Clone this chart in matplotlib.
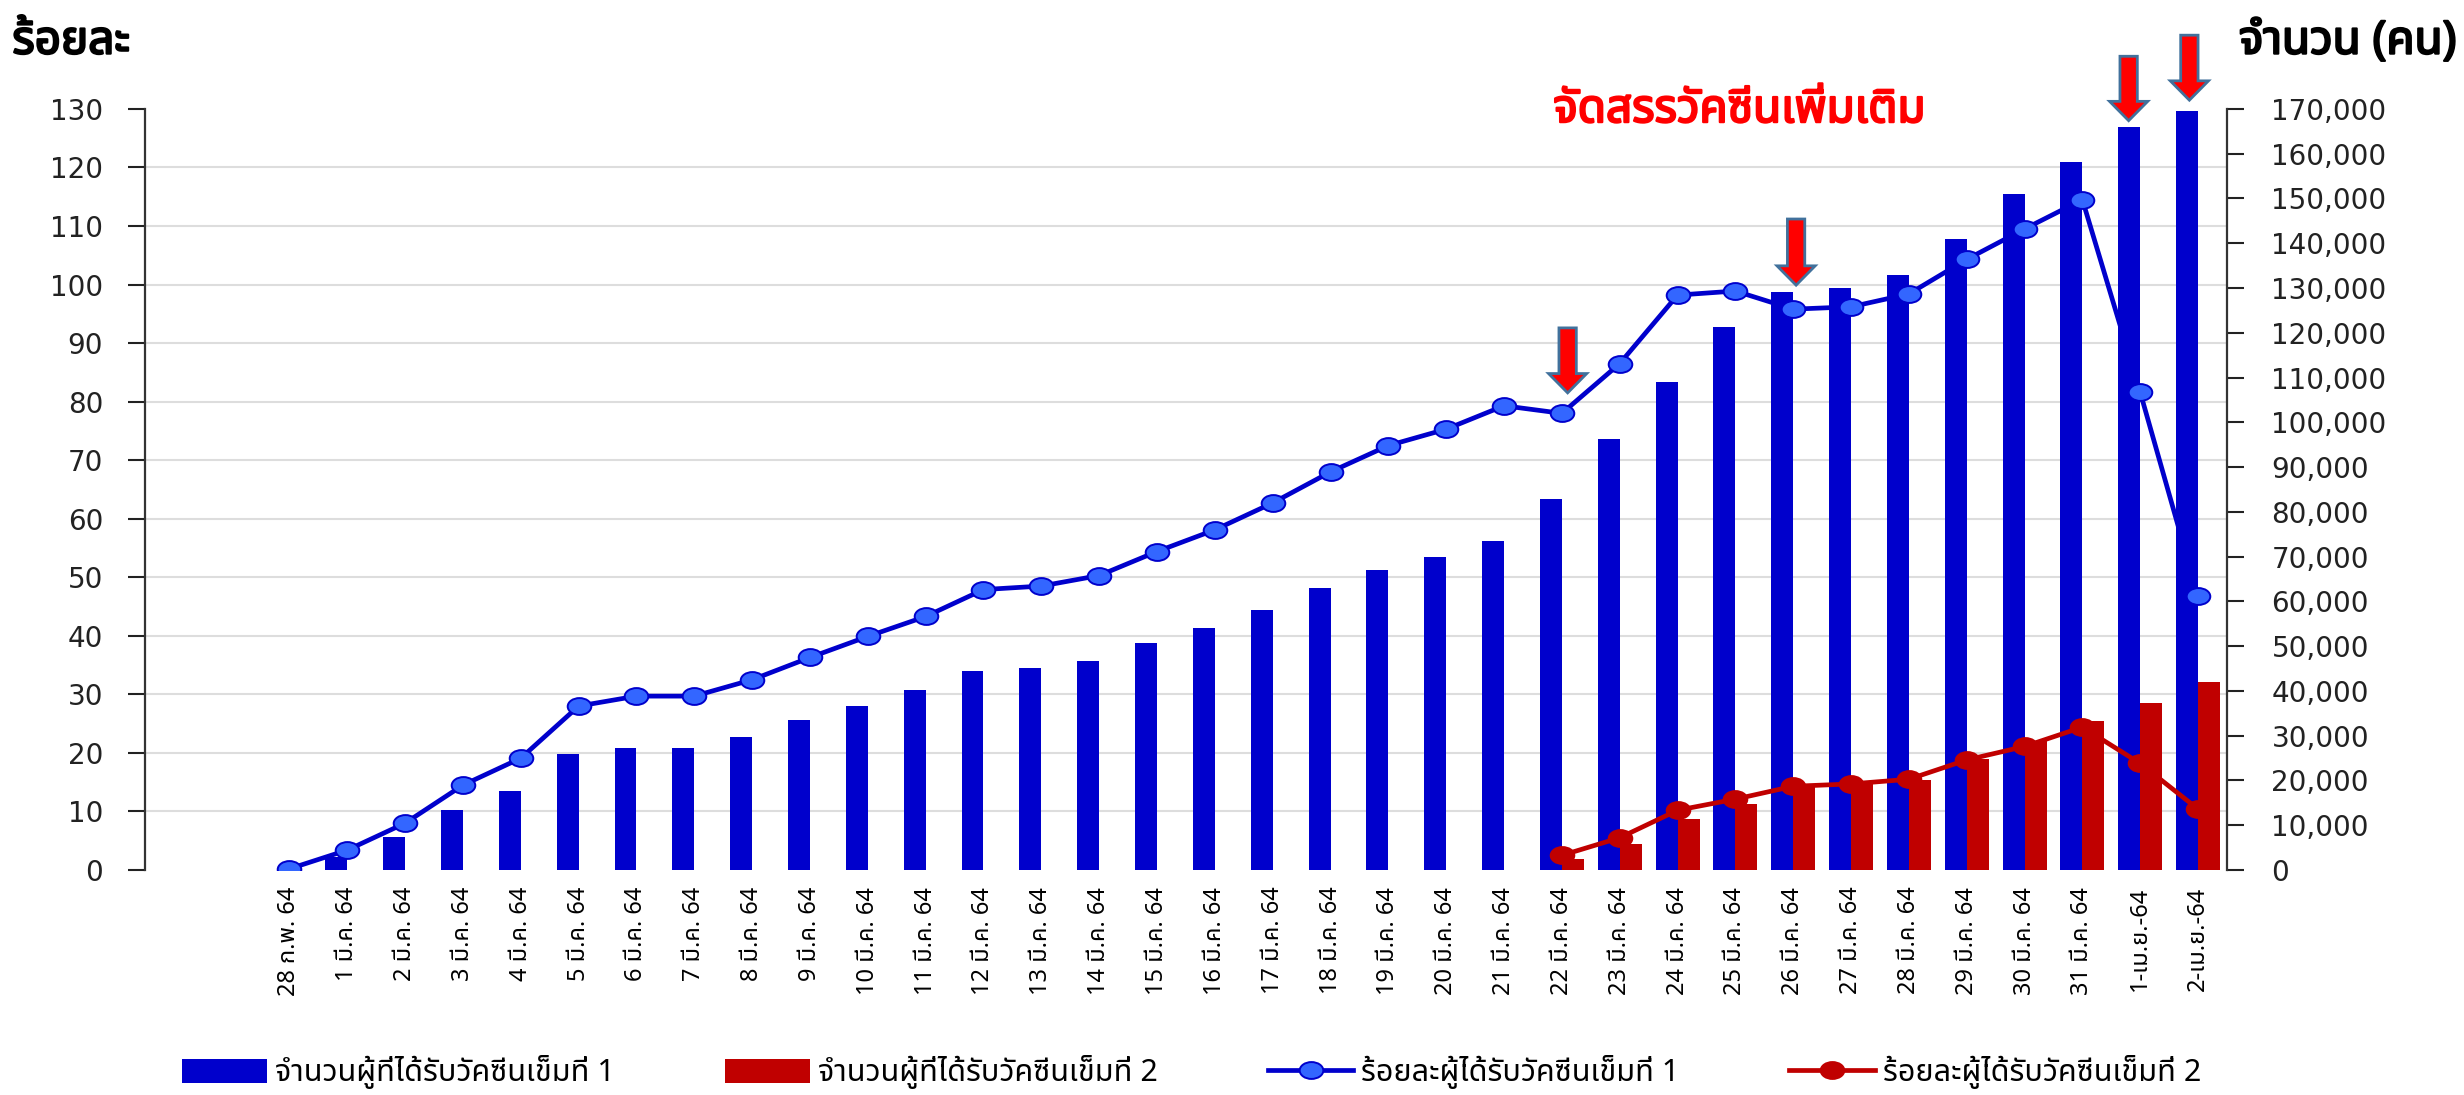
import matplotlib
matplotlib.use('Agg')
import matplotlib.pyplot as plt
import matplotlib.patheffects as pe
from matplotlib import font_manager
from matplotlib.ft2font import FT2Font
from matplotlib.patches import FancyArrow
from matplotlib.path import Path
from matplotlib.transforms import Affine2D
from matplotlib.ticker import FuncFormatter
import numpy as np

# categories (x axis)
dates = ['28 ก.พ. 64',
         '1 มี.ค. 64', '2 มี.ค. 64', '3 มี.ค. 64', '4 มี.ค. 64', '5 มี.ค. 64',
         '6 มี.ค. 64', '7 มี.ค. 64', '8 มี.ค. 64', '9 มี.ค. 64', '10 มี.ค. 64',
         '11 มี.ค. 64', '12 มี.ค. 64', '13 มี.ค. 64', '14 มี.ค. 64', '15 มี.ค. 64',
         '16 มี.ค. 64', '17 มี.ค. 64', '18 มี.ค. 64', '19 มี.ค. 64', '20 มี.ค. 64',
         '21 มี.ค. 64', '22 มี.ค. 64', '23 มี.ค. 64', '24 มี.ค. 64', '25 มี.ค. 64',
         '26 มี.ค. 64', '27 มี.ค. 64', '28 มี.ค. 64', '29 มี.ค. 64', '30 มี.ค. 64',
         '31 มี.ค. 64', '1-เม.ย.-64', '2-เม.ย.-64']

# number of people vaccinated (right axis)
dose1_count = [0, 3000, 7300, 13400, 17700, 25900, 27300, 27300, 29800, 33600,
               36700, 40100, 44400, 45100, 46600, 50600, 54000, 58100, 62900, 67100,
               70000, 73400, 82800, 96200, 109000, 121200, 129200, 130100, 132900, 140900,
               151100, 158100, 165900, 169600]
dose2_count = [None] * 22 + [2500, 5900, 11400, 14800, 18900, 19300, 20000, 24900,
                             28800, 33300, 37300, 42100]

# percentage (left axis)
dose1_pct = [0.2, 3.4, 8.0, 14.5, 19.1, 28.0, 29.7, 29.7, 32.5, 36.3,
             39.9, 43.3, 47.9, 48.5, 50.3, 54.4, 58.1, 62.7, 68.0, 72.5,
             75.3, 79.3, 78.0, 86.5, 98.2, 98.9, 95.8, 96.2, 98.4, 104.3,
             109.5, 114.5, 81.6, 46.8]
dose2_pct = [None] * 22 + [2.5, 5.5, 10.2, 12.1, 14.3, 14.7, 15.5, 18.8,
                           21.1, 24.4, 18.2, 10.4]

series_names = ['จำนวนผู้ที่ได้รับวัคซีนเข็มที่ 1', 'จำนวนผู้ที่ได้รับวัคซีนเข็มที่ 2',
                'ร้อยละผู้ได้รับวัคซีนเข็มที่ 1', 'ร้อยละผู้ได้รับวัคซีนเข็มที่ 2']

pct_max, cnt_max = 130, 170000
pct_ticks = np.arange(0, 131, 10)
cnt_ticks = np.arange(0, 170001, 10000)

# red "extra allocation" arrows: x position (category), top and tip on the % scale
arrow_x = [22.1, 26.05, 31.8, 32.85]
arrow_top = [92.6, 111.2, 139.0, 142.6]
arrow_tip = [81.5, 99.9, 128.0, 131.5]


def thai_font():
    found = []
    for f in font_manager.fontManager.ttflist:
        try:
            if 0x0E01 in FT2Font(f.fname).get_charmap():
                found.append(f.name)
        except Exception:
            pass
    for pref in ['Tahoma', 'Leelawadee UI', 'Noto Sans Thai', 'Noto Sans Thai Looped',
                 'Loma', 'Garuda', 'Sarabun', 'TH Sarabun New', 'Norasi']:
        if pref in found:
            return pref
    return found[0] if found else 'DejaVu Sans'


THAI = thai_font()
plt.rcParams['font.family'] = [THAI, 'DejaVu Sans']

BLUE = '#0000CC'
RED = '#C00000'


def bold(color):
    # the Thai face may have no bold weight, so thicken it with a stroke
    return [pe.withStroke(linewidth=1.6, foreground=color)]


fig = plt.figure(figsize=(24.64, 10.95), dpi=100)
ax_bar = fig.add_axes([0.0588, 0.2055, 0.8450, 0.6950])
ax_line = ax_bar.twinx()

x = np.arange(len(dates))
w = 0.38
d1 = np.array(dose1_count, dtype=float)
d2 = np.array(dose2_count, dtype=float)
p1 = np.array(dose1_pct, dtype=float)
p2 = np.array(dose2_pct, dtype=float)

b1 = ax_bar.bar(x - w / 2, d1, width=w, color=BLUE, zorder=3)
b2 = ax_bar.bar(x + w / 2, np.nan_to_num(d2), width=w, color=RED, zorder=3)

# slightly wide circle marker like the original
ell = Path.unit_circle().transformed(Affine2D().scale(1.4, 1.0))
l1, = ax_line.plot(x, p1, color=BLUE, lw=3.4, marker=ell, ms=17,
                   mfc='#3366FF', mec=BLUE, mew=1.4, zorder=4)
l2, = ax_line.plot(x, p2, color=RED, lw=3.4, marker=ell, ms=17,
                   mfc=RED, mec=RED, mew=1.4, zorder=4)

ax_bar.set_xlim(-2.5, 33.5)
ax_bar.set_ylim(0, cnt_max)
ax_line.set_ylim(0, pct_max)

# gridlines follow the percentage ticks, drawn behind the bars
ax_bar.set_yticks(pct_ticks * cnt_max / pct_max, minor=True)
ax_bar.grid(which='minor', axis='y', color='#DDDDDD', lw=1.5, zorder=0)
ax_bar.set_axisbelow(True)

ax_bar.yaxis.tick_right()
ax_bar.set_yticks(cnt_ticks)
ax_bar.yaxis.set_major_formatter(FuncFormatter(lambda v, p: f'{v:,.0f}'))
ax_bar.tick_params(axis='y', which='major', direction='out', length=12, width=1.5,
                   pad=20, labelsize=20, colors='#222222')
ax_bar.tick_params(axis='y', which='minor', length=0, right=False, left=False)
for lab in ax_bar.get_yticklabels():
    lab.set_family('DejaVu Sans')

ax_line.yaxis.tick_left()
ax_line.set_yticks(pct_ticks)
ax_line.tick_params(axis='y', direction='out', length=12, width=1.5,
                    pad=18, labelsize=20, colors='#222222')
for lab in ax_line.get_yticklabels():
    lab.set_family('DejaVu Sans')

ax_bar.set_xticks(x)
ax_bar.set_xticklabels(dates, rotation=90, fontsize=17)
ax_bar.tick_params(axis='x', length=0, pad=12)

for a in (ax_bar, ax_line):
    a.spines['top'].set_visible(False)
    a.spines['bottom'].set_visible(False)
ax_bar.spines['left'].set_visible(False)
ax_line.spines['right'].set_visible(False)
ax_bar.spines['right'].set_color('#333333')
ax_bar.spines['right'].set_linewidth(1.6)
ax_line.spines['left'].set_color('#333333')
ax_line.spines['left'].set_linewidth(1.6)

for xa, yt, yp in zip(arrow_x, arrow_top, arrow_tip):
    ax_line.add_patch(FancyArrow(xa, yt, 0, yp - yt, width=0.3, head_width=0.66,
                                 head_length=3.3, length_includes_head=True,
                                 fc='#FF0000', ec='#41719C', lw=2, clip_on=False,
                                 zorder=6))

ax_line.text(25.07, 129.8, 'จัดสรรวัคซีนเพิ่มเติม', color='#FF0000', fontsize=33,
             fontweight='bold', ha='center', va='center', zorder=7,
             path_effects=bold('#FF0000'))

fig.text(0.005, 0.962, 'ร้อยละ', fontsize=33, fontweight='bold', ha='left',
         va='center', path_effects=bold('black'))
fig.text(0.997, 0.962, 'จำนวน (คน)', fontsize=33, fontweight='bold', ha='right',
         va='center', path_effects=bold('black'))

fig.legend([b1, b2, l1, l2], series_names, loc='lower center',
           bbox_to_anchor=(0.4835, -0.02), ncol=4, frameon=False, fontsize=22,
           handlelength=2.8, handleheight=0.85, handletextpad=0.25, columnspacing=3.6)

fig.savefig('out.png', dpi=100)
plt.close(fig)
